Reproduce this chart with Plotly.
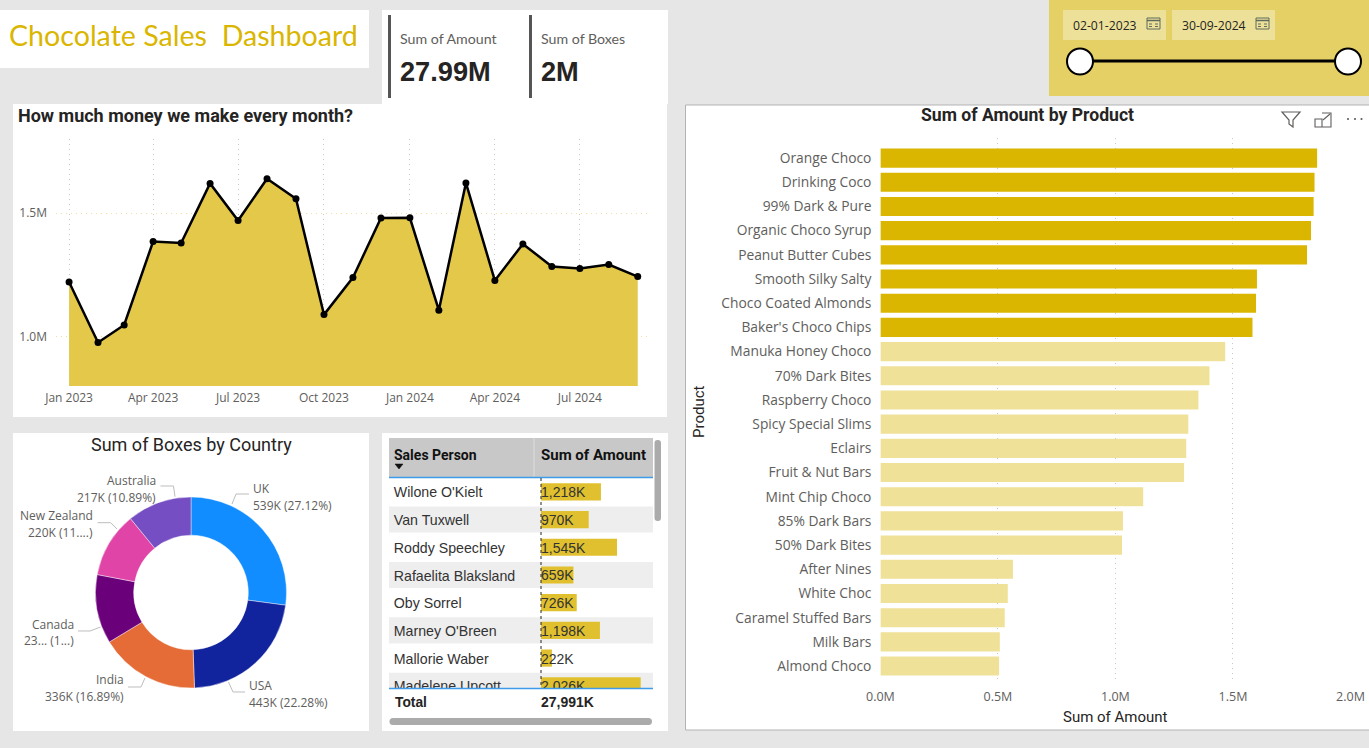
import plotly.graph_objects as go

W, H = 1369, 748

# ---------------- data ----------------
months = ["2023-01-01","2023-02-01","2023-03-01","2023-04-01","2023-05-01","2023-06-01","2023-07-01",
          "2023-08-01","2023-09-01","2023-10-01","2023-11-01","2023-12-01","2024-01-01","2024-02-01",
          "2024-03-01","2024-04-01","2024-05-01","2024-06-01","2024-07-01","2024-08-01","2024-09-01"]
monthly_amount = [1.221,0.976,1.047,1.385,1.379,1.620,1.470,1.639,1.558,1.089,1.239,1.480,1.481,1.107,
                  1.622,1.227,1.375,1.284,1.276,1.292,1.243]
monthly_amount = [v * 1e6 for v in monthly_amount]
line_y_ticks = [1.0e6, 1.5e6]
line_y_labels = ["1.0M", "1.5M"]

products = ["Orange Choco","Drinking Coco","99% Dark & Pure","Organic Choco Syrup","Peanut Butter Cubes",
            "Smooth Silky Salty","Choco Coated Almonds","Baker's Choco Chips","Manuka Honey Choco",
            "70% Dark Bites","Raspberry Choco","Spicy Special Slims","Eclairs","Fruit & Nut Bars",
            "Mint Chip Choco","85% Dark Bars","50% Dark Bites","After Nines","White Choc",
            "Caramel Stuffed Bars","Milk Bars","Almond Choco"]
product_amount = [1.858,1.847,1.843,1.832,1.815,1.602,1.598,1.583,1.467,1.400,1.353,1.310,1.301,1.292,
                  1.118,1.032,1.028,0.564,0.542,0.529,0.508,0.505]
product_colors = ["#DAB600"] * 8 + ["#F0E199"] * 14
bar_x_ticks = [0, 0.5, 1.0, 1.5, 2.0]
bar_x_labels = ["0.0M", "0.5M", "1.0M", "1.5M", "2.0M"]

countries = ["UK","USA","India","Canada","New Zealand","Australia"]
boxes = [539,443,336,232,220,217]
country_colors = ["#118DFF","#12239E","#E66C37","#6B007B","#E044A7","#744EC2"]

sales_people = ["Wilone O'Kielt","Van Tuxwell","Roddy Speechley","Rafaelita Blaksland","Oby Sorrel",
                "Marney O'Breen","Mallorie Waber","Madelene Upcott"]
sales_amount = [1218,970,1545,659,726,1198,222,2026]
sales_labels = ["1,218K","970K","1,545K","659K","726K","1,198K","222K","2,026K"]

# ---------------- helpers ----------------
def X(p): return p / W
def Y(p): return 1 - p / H

DIN = "Roboto"
SEG = "Open Sans"
ARI = "Liberation Sans"
GREY = "#605E5C"
shapes, annos = [], []

def rect(x0, y0, x1, y1, fill, line=None, lw=1, layer="below"):
    shapes.append(dict(type="rect", xref="paper", yref="paper", x0=X(x0), x1=X(x1), y0=Y(y0), y1=Y(y1),
                       fillcolor=fill, line=dict(color=line or fill, width=lw if line else 0), layer=layer))

def seg(pts, color, lw=1, layer="above", dash="solid", close=False, fill=None):
    d = "M" + " L".join(f"{X(a):.5f},{Y(b):.5f}" for a, b in pts) + (" Z" if close else "")
    s = dict(type="path", xref="paper", yref="paper", path=d, line=dict(color=color, width=lw, dash=dash), layer=layer)
    if fill:
        s["fillcolor"] = fill
    shapes.append(s)

def circ(cx, cy, r, fill, line=None, lw=0):
    shapes.append(dict(type="circle", xref="paper", yref="paper", x0=X(cx-r), x1=X(cx+r), y0=Y(cy+r), y1=Y(cy-r),
                       fillcolor=fill, line=dict(color=line or fill, width=lw), layer="above"))

def rounded(x0, y0, x1, y1, r, fill):
    q = lambda a, b: f"{X(a):.5f},{Y(b):.5f}"
    d = (f"M{q(x0+r,y0)} L{q(x1-r,y0)} Q{q(x1,y0)} {q(x1,y0+r)} L{q(x1,y1-r)} Q{q(x1,y1)} {q(x1-r,y1)} "
         f"L{q(x0+r,y1)} Q{q(x0,y1)} {q(x0,y1-r)} L{q(x0,y0+r)} Q{q(x0,y0)} {q(x0+r,y0)} Z")
    shapes.append(dict(type="path", xref="paper", yref="paper", path=d, fillcolor=fill, line=dict(width=0), layer="above"))

def txt(px, py, text, size, color="#252423", family=SEG, anchor="left", weight=None, angle=0):
    f = dict(size=size, color=color, family=family)
    if weight:
        f["weight"] = weight
    annos.append(dict(x=X(px), y=Y(py), xref="paper", yref="paper", text=text, showarrow=False, font=f,
                      xanchor=anchor, yanchor="middle", align=anchor, textangle=angle,
                      xshift=0, yshift=0, borderpad=0, borderwidth=0))

# ---------------- panels ----------------
rect(0, 10, 369, 68, "white")
rect(382, 10, 668, 104, "white")
rect(13, 104, 667, 417, "white")
rect(13, 433, 369, 731, "white")
rect(382, 433, 668, 731, "white")
rect(685.5, 105, 1370, 730, "white", "#B3B3B3", 1)
rect(1049, 0, 1369, 96, "#E5D066")

# title + KPI
txt(8.5, 34.5, "Chocolate Sales\u00a0\u00a0Dashboard", 28.6, "#DAB600", "Lato", weight=400)
rect(388, 15, 391, 98, "#555555")
rect(529, 15, 532, 98, "#555555")
txt(400, 39, "Sum of Amount", 14.2, GREY, "Lato")
txt(541, 39, "Sum of Boxes", 14.2, GREY, "Lato")
txt(400, 71, "27.99M", 27.2, "#252423", ARI, weight=700)
txt(541, 71, "2M", 27.2, "#252423", ARI, weight=700)

# chart titles
txt(18, 115, "How much money we make every month?", 18, "#252423", DIN, weight=700)
txt(191, 444, "Sum of Boxes by Country", 18, "#252423", DIN, "center", weight=400)
txt(1027, 115, "Sum of Amount by Product", 17.6, "#252423", DIN, "center", weight=700)
txt(699, 412, "Product", 15, "#252423", DIN, "center", weight=400, angle=-90)
txt(1115, 717, "Sum of Amount", 15, "#252423", DIN, "center", weight=400)

# slicer
for bx0, bx1, label in [(1063, 1166, "02-01-2023"), (1172, 1275, "30-09-2024")]:
    rect(bx0, 10, bx1, 40, "#EDE19A")
    txt(bx0 + 10, 25.5, label, 12.2, "#252423", SEG)
    ix = bx1 - 19
    rect(ix, 18, ix + 13, 29, "rgba(0,0,0,0)", "#5F6B5C", 1, layer="above")
    seg([(ix, 20.5), (ix + 13, 20.5)], "#5F6B5C", 1.5)
    seg([(ix + 2, 24), (ix + 11, 24)], "#5F6B5C", 1, dash="dot")
    seg([(ix + 2, 26.5), (ix + 11, 26.5)], "#5F6B5C", 1, dash="dot")
seg([(1080, 61), (1348, 61)], "black", 3)
circ(1080, 61.5, 13, "white", "black", 2)
circ(1348, 61.5, 13, "white", "black", 2)

# visual header icons
seg([(1282, 112), (1300, 112), (1293, 120), (1293, 127), (1289, 124), (1289, 120)], "#605E5C", 1.2, close=True)
seg([(1322, 113), (1331, 113), (1331, 127), (1315, 127), (1315, 119), (1322, 119), (1322, 127)], "#605E5C", 1.1)
seg([(1323, 120), (1330, 114)], "#605E5C", 1.1)
for dx in (1348, 1355, 1361.5):
    circ(dx, 119, 1.1, "#605E5C")

# donut labels
leaders = [[(232,504),(236,494),(249,494)], [(228.5,682),(233,692),(245,692)], [(145,678),(141,687),(128,687)],
           [(100.6,627),(90,631),(78,631)], [(117,529),(110.6,522.7),(97.6,522.7)], [(175,496.7),(173.5,486),(160.5,486)]]
for l in leaders:
    seg(l, "#BDBDBD", 1)
c = "#605E5C"
txt(253, 488, "UK", 12, c); txt(253, 505, "539K (27.12%)", 12, c)
txt(249, 685, "USA", 12, c); txt(249, 702, "443K (22.28%)", 12, c)
txt(124, 679, "India", 12, c, anchor="right"); txt(124, 696, "336K (16.89%)", 12, c, anchor="right")
txt(74, 624, "Canada", 12, c, anchor="right"); txt(74, 640, "23... (1...)", 12, c, anchor="right")
txt(93, 515, "New Zealand", 12, c, anchor="right"); txt(93, 532, "220K (11....)", 12, c, anchor="right")
txt(156, 480, "Australia", 12, c, anchor="right"); txt(156, 497, "217K (10.89%)", 12, c, anchor="right")

# table chrome
rect(389, 438, 653, 477, "#C8C8C8")
seg([(534, 438), (534, 477)], "#DEDEDE", 1)
seg([(389, 477.5), (653, 477.5)], "#3E9BEA", 1.5)
seg([(389, 688.5), (653, 688.5)], "#3E9BEA", 1.5)
seg([(541, 478), (541, 688)], "#252423", 1, dash="dot")
txt(393.5, 455, "Sales Person", 14, "#111111", DIN, weight=700)
txt(540.5, 455, "Sum of Amount", 15, "#111111", DIN, weight=700)
seg([(395, 464), (403, 464), (399, 469)], "#111111", 0.5, close=True, fill="#111111")
txt(394.5, 702, "Total", 13.8, "#252423", ARI, weight=700)
txt(540.5, 702, "27,991K", 14, "#252423", ARI, weight=700)
rounded(654.5, 440, 661, 521, 3, "#ABABAB")
rounded(389.5, 718, 652, 725, 3.5, "#ABABAB")

# ---------------- figure ----------------
fig = go.Figure()

# monthly area + line
fig.add_trace(go.Scatter(x=months, y=monthly_amount, mode="lines+markers", fill="tozeroy", fillcolor="#E3C84A",
                         line=dict(color="black", width=2.5), marker=dict(color="black", size=7),
                         xaxis="x", yaxis="y", hoverinfo="skip"))

# product bars
fig.add_trace(go.Bar(x=product_amount, y=products, orientation="h", marker=dict(color=product_colors, line=dict(width=0)),
                     width=0.79, xaxis="x2", yaxis="y2", hoverinfo="skip"))

# donut
fig.add_trace(go.Pie(labels=countries, values=boxes, hole=0.6, sort=False, direction="clockwise", rotation=0,
                     marker=dict(colors=country_colors, line=dict(color="rgba(255,255,255,0.6)", width=0.7)),
                     textinfo="none", hoverinfo="skip",
                     domain=dict(x=[X(95.5), X(286.5)], y=[Y(688), Y(497)])))

# table: zebra + names on the 0..1 axis, data bars + value text on the amount axis
fig.add_trace(go.Bar(x=[1, 1, 1, 1], y=sales_people[1::2], orientation="h", width=0.94,
                     marker=dict(color="#EEEEEE", line=dict(width=0)), xaxis="x3", yaxis="y3", hoverinfo="skip"))
fig.add_trace(go.Scatter(x=[0.018] * len(sales_people), y=sales_people, text=sales_people, mode="text",
                         textposition="middle right", textfont=dict(family=ARI, size=14.2, color="#333333"),
                         xaxis="x3", yaxis="y4", hoverinfo="skip"))
fig.add_trace(go.Bar(x=sales_amount, y=sales_people, orientation="h", width=0.62,
                     marker=dict(color="#E0C02F", line=dict(width=0)), xaxis="x4", yaxis="y3", hoverinfo="skip"))
fig.add_trace(go.Scatter(x=[0] * len(sales_people), y=sales_people, text=sales_labels, mode="text",
                         textposition="middle right", textfont=dict(family=ARI, size=14, color="#333333"),
                         xaxis="x4", yaxis="y4", hoverinfo="skip"))

tick_font = dict(family=SEG, size=12, color=GREY)
off = dict(visible=False, showgrid=False, zeroline=False, showticklabels=False, automargin=False)
GRID_DASH = "1px,4px"

fig.update_layout(
    width=W, height=H, margin=dict(l=0, r=0, t=0, b=0), autosize=False,
    paper_bgcolor="#E6E6E6", plot_bgcolor="rgba(0,0,0,0)", showlegend=False, hovermode=False,
    shapes=shapes, annotations=annos,
    xaxis=dict(domain=[X(56), X(648)], anchor="y", type="date", range=["2022-12-18", "2024-09-12"], automargin=False,
               tickformat="%b %Y", dtick="M3", tick0="2023-01-01", tickfont=tick_font,
               showgrid=True, gridcolor="#C8C8C8", griddash=GRID_DASH, gridwidth=1, zeroline=False,
               showline=False, ticks="", ticklabelstandoff=3),
    yaxis=dict(domain=[Y(386), Y(139)], anchor="x", range=[0.8e6, 1.8e6], tickvals=line_y_ticks, ticktext=line_y_labels,
               tickfont=tick_font, showgrid=True, gridcolor="#F0DFA0", griddash=GRID_DASH, gridwidth=1, automargin=False,
               zeroline=False, showline=False, ticks="", ticklabelstandoff=8),
    xaxis2=dict(domain=[X(880.4), X(1350.5)], anchor="y2", range=[0, 2], tickvals=bar_x_ticks, ticktext=bar_x_labels,
                tickfont=dict(family=SEG, size=12.5, color=GREY), showgrid=True, gridcolor="#C8C8C8", griddash=GRID_DASH,
                zeroline=False, showline=False, ticks="", ticklabelstandoff=4, automargin=False),
    yaxis2=dict(domain=[Y(683), Y(138)], anchor="x2", type="category", categoryorder="array", categoryarray=products,
                range=[21.7, -0.83], tickfont=dict(family=SEG, size=13.8, color=GREY), showgrid=False, zeroline=False,
                showline=False, ticks="", ticklabelstandoff=8, automargin=False),
    xaxis3=dict(off, domain=[X(389), X(653)], anchor="y3", range=[0, 1]),
    xaxis4=dict(off, domain=[X(389), X(653)], anchor="y3", overlaying="x3", range=[-3089, 2276]),
    yaxis3=dict(off, domain=[Y(688), Y(478)], anchor="x3", type="category", categoryorder="array",
                categoryarray=sales_people, range=[7.08, -0.5]),
    yaxis4=dict(off, domain=[Y(688), Y(478)], anchor="x3", overlaying="y3", type="category", categoryorder="array",
                categoryarray=sales_people, range=[7.008, -0.572]),
)

fig.write_html("out.html", config={"displayModeBar": False},
               post_script="document.body.style.margin='0';document.body.style.overflow='hidden';")
